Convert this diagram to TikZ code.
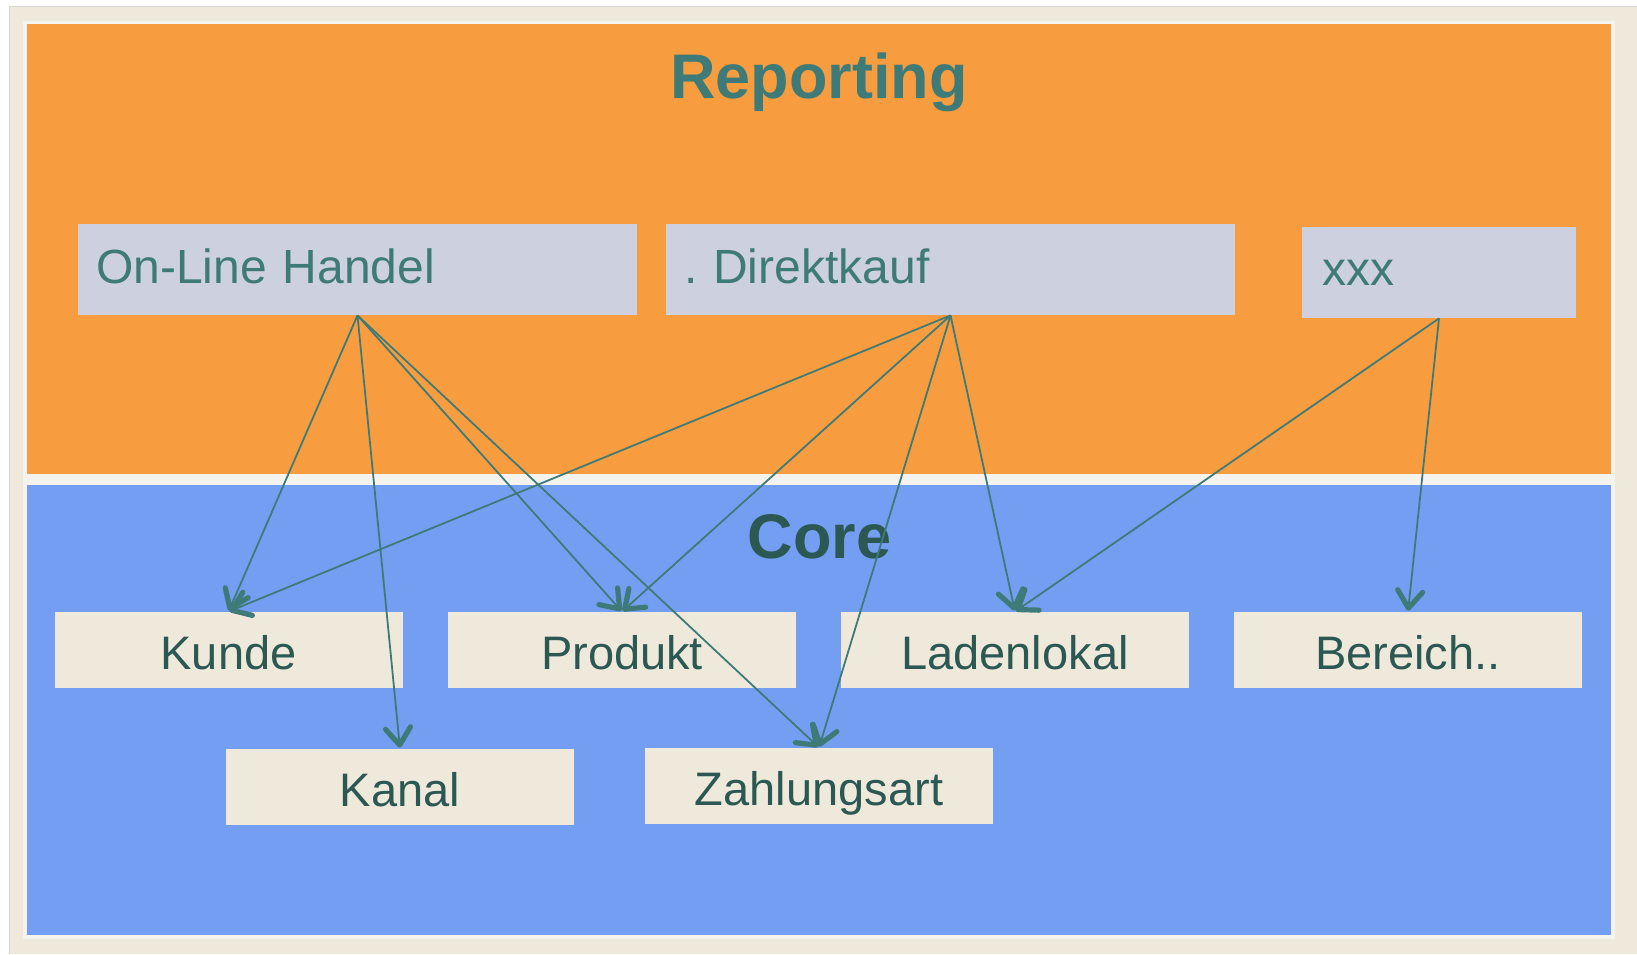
\documentclass[tikz,border=0pt]{standalone}
\usepackage{fontspec}
\setmainfont{Liberation Sans}
\usetikzlibrary{arrows.meta}
\definecolor{orangeP}{HTML}{F89D3F}
\definecolor{blueP}{HTML}{749EF2}
\definecolor{lavBox}{HTML}{CDD0DF}
\definecolor{beigeBox}{HTML}{EFE9DC}
\definecolor{stripeC}{HTML}{F5F3EE}
\definecolor{tealA}{HTML}{3E7B78}
\definecolor{tealD}{HTML}{2B5852}
\definecolor{frameGray}{HTML}{D6D6D6}
\frenchspacing
\begin{document}
\begin{tikzpicture}[x=0.5pt,y=-0.5pt,
  topbox/.style={fill=lavBox, inner sep=0pt, inner xsep=9pt, minimum height=45.5pt,
    text width=#1, align=left, text height=13.5pt, text depth=0pt, text=tealA,
    font=\fontsize{24pt}{28pt}\selectfont},
  botbox/.style={fill=beigeBox, inner sep=0pt, minimum width=174pt, minimum height=38pt,
    text height=19.5pt, text depth=0pt, text=tealD, font=\fontsize{23.5pt}{28pt}\selectfont},
  titletext/.style={font=\bfseries\fontsize{31.5pt}{36pt}\selectfont, inner sep=0pt, anchor=base},
  conn/.style={draw=tealA, line width=0.9pt,
    -{Straight Barb[length=8.5pt,width=12.5pt,line width=2.6pt,round]}, shorten >=0.5pt}]
\useasboundingbox (0,0) rectangle (1637,954);
\fill[white] (0,0) rectangle (1637,954);
\fill[beigeBox] (9.5,6.5) rectangle (1637,954);
\draw[frameGray, line width=0.6pt] (9.5,954) -- (9.5,6.5) -- (1637,6.5);
\fill[stripeC] (23,21) rectangle (1615,939);
\fill[orangeP] (27,24) rectangle (1611,474);
\fill[blueP] (27,485) rectangle (1611,935);

\node[titletext, text=tealA] (rep) at (819,98) {Reporting};
\node[titletext, text=tealD] (core) at (819.5,558) {Core};

\node[topbox=261.5pt] (olh) at (357.5,269.5) {On-Line Handel};
\node[topbox=266.5pt] (dk) at (950.5,269.5) {. Direktkauf};
\node[topbox=117pt, inner xsep=10pt, text height=12.5pt] (xxx) at (1439,272.5) {xxx};

\node[botbox] (kunde) at (228.5,650) {Kunde};
\node[botbox] (produkt) at (622,650) {Produkt};
\node[botbox] (laden) at (1015,650) {Ladenlokal};
\node[botbox] (bereich) at (1408,650) {Bereich..};
\node[botbox] (kanal) at (400,787) {Kanal};
\node[botbox] (zahl) at (819,786) {Zahlungsart};

\draw[conn] (olh.south) -- (kunde.north);
\draw[conn] (olh.south) -- (kanal.north);
\draw[conn] (olh.south) -- (produkt.north);
\draw[conn] (olh.south) -- (zahl.north);
\draw[conn] (dk.south) -- (kunde.north);
\draw[conn] (dk.south) -- (produkt.north);
\draw[conn] (dk.south) -- (zahl.north);
\draw[conn] (dk.south) -- (laden.north);
\draw[conn] (xxx.south) -- (laden.north);
\draw[conn] (xxx.south) -- (bereich.north);
\end{tikzpicture}
\end{document}
